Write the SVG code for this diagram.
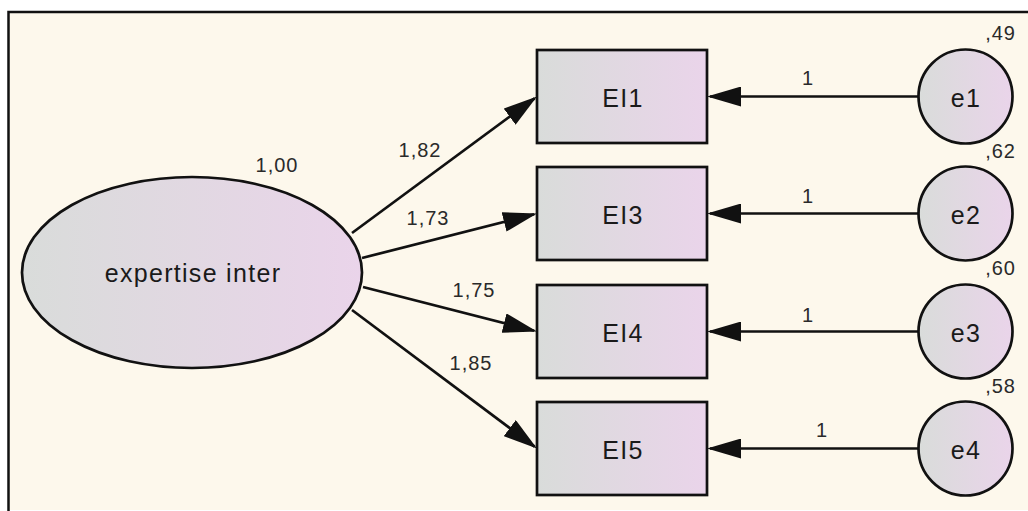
<svg xmlns="http://www.w3.org/2000/svg" width="1028" height="511" viewBox="0 0 1028 511">
  <style>
    .node { stroke: #111; stroke-width: 2.7; fill: url(#nodeGrad); }
    .conn { stroke: #111; stroke-width: 2.7; fill: none; marker-end: url(#arrow); }
    .lbl { font-family: "Liberation Sans", Arial, sans-serif; font-size: 25px; fill: #1a1a1a; letter-spacing: 1.3px; text-anchor: middle; }
    .num { font-family: "Liberation Sans", Arial, sans-serif; font-size: 20px; fill: #2a2a2a; letter-spacing: 1px; text-anchor: middle; }
    .var { text-anchor: end; }
  </style>
  <defs>
    <linearGradient id="nodeGrad" x1="0" y1="0" x2="1" y2="0">
      <stop offset="0" stop-color="#d9dcda"/>
      <stop offset="1" stop-color="#ead4ea"/>
    </linearGradient>
    <marker id="arrow" viewBox="0 0 34 20" markerWidth="34" markerHeight="20" refX="31" refY="10" orient="auto" markerUnits="userSpaceOnUse">
      <path d="M0,0 L34,10 L0,20 z" fill="#111"/>
    </marker>
  </defs>

  <rect x="0" y="0" width="1028" height="511" fill="#ffffff"/>
  <rect x="8.5" y="12" width="1030" height="498" fill="#fdf8ec"/>
  <path d="M8.5,511 L8.5,12 L1028,12" stroke="#111" stroke-width="2.5" fill="none"/>

  <g id="connectors">
    <line class="conn" x1="352" y1="233" x2="534.6" y2="98.3"/>
    <line class="conn" x1="362" y1="258" x2="534.1" y2="214.2"/>
    <line class="conn" x1="363" y1="287" x2="534.1" y2="330.8"/>
    <line class="conn" x1="352" y1="310" x2="534.6" y2="446.7"/>
    <line class="conn" x1="918" y1="96.5" x2="710" y2="96.5"/>
    <line class="conn" x1="918" y1="213.5" x2="710" y2="213.5"/>
    <line class="conn" x1="918" y1="331.5" x2="710" y2="331.5"/>
    <line class="conn" x1="918" y1="448.5" x2="710" y2="448.5"/>
    <text class="num" x="420" y="157">1,82</text>
    <text class="num" x="428" y="225">1,73</text>
    <text class="num" x="474" y="297">1,75</text>
    <text class="num" x="471" y="370">1,85</text>
    <text class="num" x="808" y="85">1</text>
    <text class="num" x="808" y="203">1</text>
    <text class="num" x="808" y="322">1</text>
    <text class="num" x="822" y="437">1</text>
  </g>

  <g id="expertise_inter">
    <ellipse class="node" cx="192" cy="272.5" rx="170" ry="95.5"/>
    <text class="lbl" x="193" y="282">expertise inter</text>
    <text class="num" x="277" y="172">1,00</text>
  </g>

  <g id="EI1">
    <rect class="node" x="537" y="50" width="170" height="93"/>
    <text class="lbl" x="623" y="106.5">EI1</text>
  </g>
  <g id="EI3">
    <rect class="node" x="537" y="167" width="170" height="93"/>
    <text class="lbl" x="623" y="223.5">EI3</text>
  </g>
  <g id="EI4">
    <rect class="node" x="537" y="285" width="170" height="93"/>
    <text class="lbl" x="623" y="341.5">EI4</text>
  </g>
  <g id="EI5">
    <rect class="node" x="537" y="402" width="170" height="93"/>
    <text class="lbl" x="623" y="458.5">EI5</text>
  </g>

  <g id="e1">
    <circle class="node" cx="965.5" cy="96.5" r="47"/>
    <text class="lbl" x="966" y="107">e1</text>
    <text class="num var" x="1016" y="40">,49</text>
  </g>
  <g id="e2">
    <circle class="node" cx="965.5" cy="213.5" r="47"/>
    <text class="lbl" x="966" y="224">e2</text>
    <text class="num var" x="1016" y="158">,62</text>
  </g>
  <g id="e3">
    <circle class="node" cx="965.5" cy="331.5" r="47"/>
    <text class="lbl" x="966" y="342">e3</text>
    <text class="num var" x="1016" y="275">,60</text>
  </g>
  <g id="e4">
    <circle class="node" cx="965.5" cy="448.5" r="47"/>
    <text class="lbl" x="966" y="459">e4</text>
    <text class="num var" x="1016" y="393">,58</text>
  </g>
</svg>
